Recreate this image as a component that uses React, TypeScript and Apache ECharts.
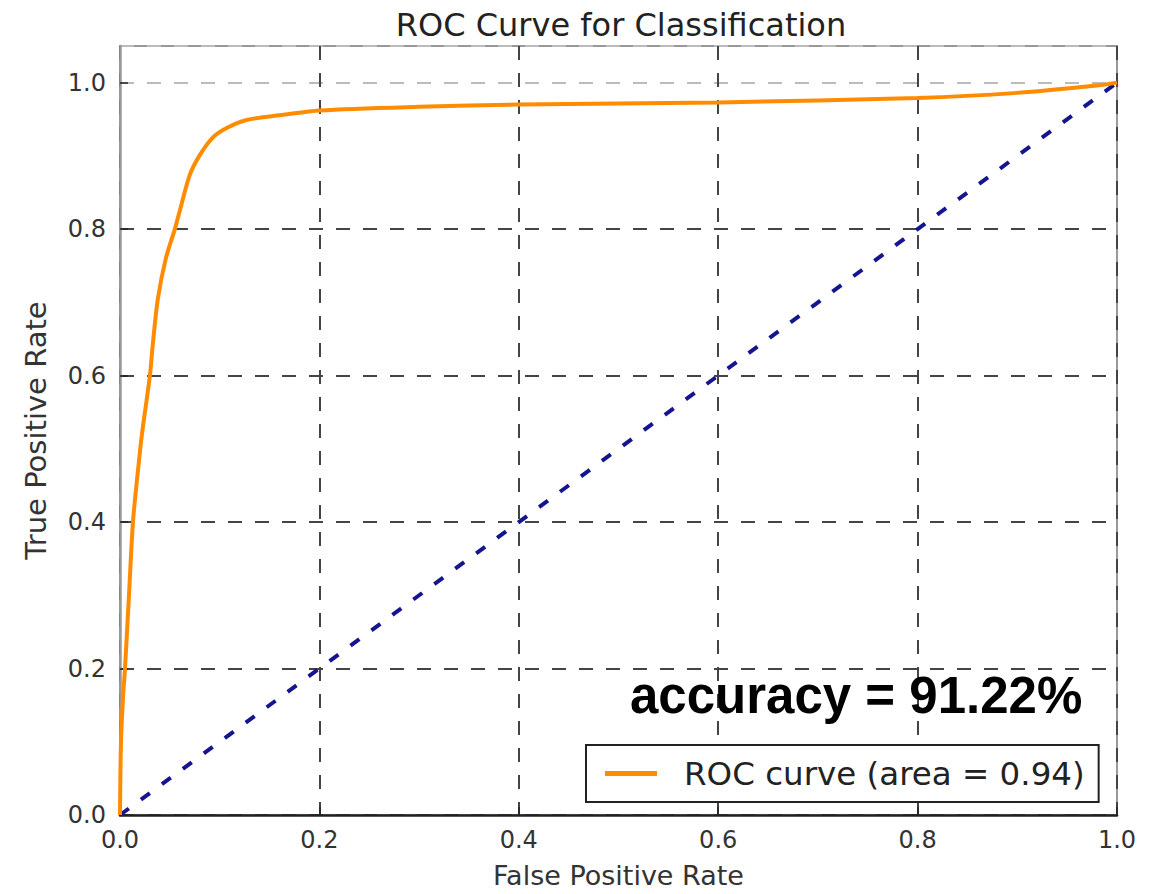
import React, { useEffect, useRef } from "react";
import * as echarts from "echarts";

const rocFpr = [0, 0.001, 0.003, 0.005, 0.009, 0.013, 0.018, 0.022, 0.03, 0.033, 0.038, 0.046, 0.055, 0.06, 0.07, 0.08, 0.093, 0.107, 0.127, 0.164, 0.2, 0.3, 0.4, 0.6, 0.8, 0.9, 0.98, 1.0];
const rocTpr = [0, 0.1, 0.16, 0.2, 0.3, 0.4, 0.47, 0.52, 0.6, 0.644, 0.705, 0.76, 0.8, 0.825, 0.874, 0.901, 0.925, 0.938, 0.949, 0.956, 0.962, 0.967, 0.97, 0.973, 0.979, 0.986, 0.996, 1.0];
const diagX = [0, 1];
const diagY = [0, 1];
const tickValues = [0, 0.2, 0.4, 0.6, 0.8, 1.0];
const titleText = "ROC Curve for Classification";
const legendText = "ROC curve (area = 0.94)";
const accuracyText = "accuracy = 91.22%";

export default function App() {
  const ref = useRef<HTMLDivElement>(null);
  useEffect(() => {
    if (!ref.current) return;
    const chart = echarts.init(ref.current, undefined, { renderer: "svg" });
    const pts = rocFpr.map((x, i) => [x, rocTpr[i]]);
    const font = "DejaVu Sans";
    chart.setOption({
      animation: false,
      backgroundColor: "#fff",
      title: {
        text: titleText,
        left: 616,
        textAlign: "center",
        top: 4,
        textStyle: { fontFamily: font, fontSize: 32, fontWeight: "normal", color: "#222" },
      },
      grid: {
        left: 120,
        right: 48,
        top: 46,
        bottom: 66,
        show: true,
        borderColor: "#999",
        borderWidth: 2,
        containLabel: false,
      },
      legend: {
        data: [legendText],
        left: 586,
        top: 745,
        orient: "horizontal",
        backgroundColor: "#fff",
        borderColor: "#222",
        borderWidth: 2,
        borderRadius: 0,
        padding: [12, 14, 12, 19],
        itemWidth: 52,
        itemHeight: 5,
        itemGap: 10,
        icon: "rect",
        textStyle: { fontFamily: font, fontSize: 32.5, color: "#222", padding: [0, 0, 0, 22] },
      },
      xAxis: {
        type: "value",
        min: 0,
        max: 1,
        interval: 0.2,
        name: "False Positive Rate",
        nameLocation: "middle",
        nameGap: 47,
        nameTextStyle: { fontFamily: font, fontSize: 27, color: "#333" },
        axisLine: { show: true, lineStyle: { color: "#222", width: 2.5 } },
        axisTick: { show: true, inside: true, length: 8, lineStyle: { color: "#222", width: 1.5 } },
        axisLabel: {
          fontFamily: font,
          fontSize: 24,
          color: "#333",
          margin: 13,
          formatter: (v: number) => v.toFixed(1),
        },
        splitLine: { show: true, lineStyle: { color: "#444", width: 2, type: [14, 13] } },
      },
      yAxis: {
        type: "value",
        min: 0,
        max: 1.05,
        interval: 0.2,
        name: "True Positive Rate",
        nameLocation: "middle",
        nameGap: 70,
        nameRotate: 90,
        nameTextStyle: { fontFamily: font, fontSize: 29, color: "#333" },
        axisLine: { show: true, lineStyle: { color: "#999", width: 2.5 } },
        axisTick: { show: true, inside: true, length: 8, lineStyle: { color: "#222", width: 1.5 } },
        axisLabel: {
          fontFamily: font,
          fontSize: 24,
          color: "#333",
          margin: 14,
          showMaxLabel: false,
          formatter: (v: number) => (tickValues.some((t) => Math.abs(t - v) < 1e-6) ? v.toFixed(1) : ""),
        },
        splitLine: {
          show: true,
          lineStyle: {
            color: ["#444", "#444", "#444", "#444", "#444", "#bbb", "#bbb"],
            width: 2,
            type: [14, 13],
          },
        },
      },
      series: [
        {
          name: "diagonal",
          type: "line",
          data: diagX.map((x, i) => [x, diagY[i]]),
          symbol: "none",
          lineStyle: { color: "#15158f", width: 4, type: [11, 15] },
          z: 3,
        },
        {
          name: legendText,
          type: "line",
          data: pts,
          symbol: "none",
          smooth: 0.3,
          color: "#ff8c00",
          lineStyle: { color: "#ff8c00", width: 4 },
          z: 4,
        },
      ],
      graphic: [
        {
          type: "text",
          left: 630,
          top: 670,
          z: 10,
          style: {
            text: accuracyText,
            fontFamily: "Liberation Sans",
            fontWeight: "bold",
            fontSize: 51,
            fill: "#000",
          },
        },
      ],
    });
    return () => chart.dispose();
  }, []);
  return <div ref={ref} style={{ width: 1165, height: 894, position: "absolute", left: 0, top: 0 }} />;
}
